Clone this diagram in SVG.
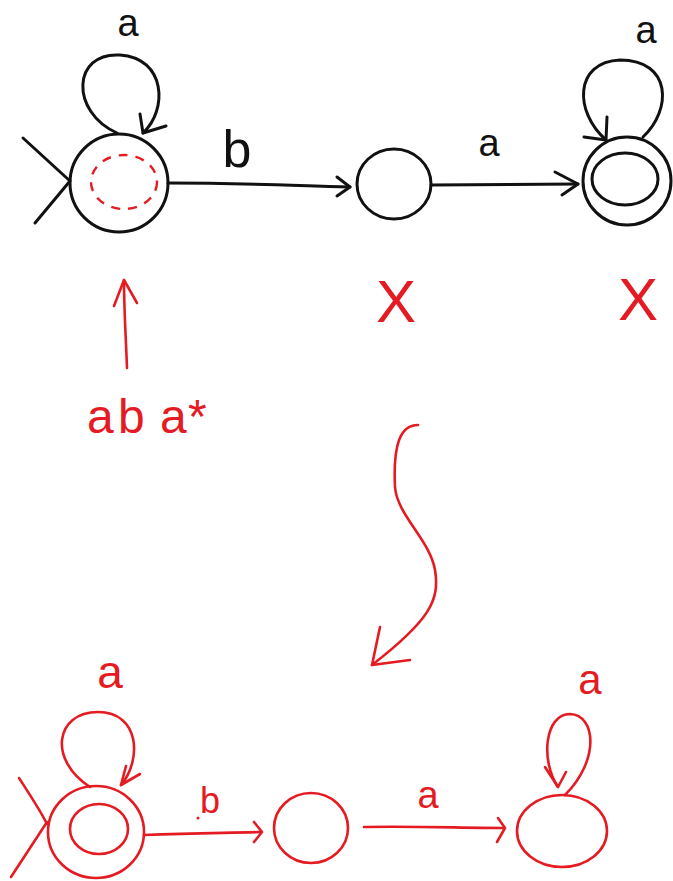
<svg xmlns="http://www.w3.org/2000/svg" width="673" height="881" viewBox="0 0 673 881">
<style>
.k{fill:none;stroke:#111;stroke-width:3;stroke-linecap:round;stroke-linejoin:round}
.r{fill:none;stroke:#e41b22;stroke-width:2.6;stroke-linecap:round;stroke-linejoin:round}
.rd{fill:none;stroke:#e41b22;stroke-width:2.4;stroke-dasharray:9 8}
.tk{font-family:"Liberation Sans",Arial,sans-serif;fill:#111}
.tr{font-family:"Liberation Sans",Arial,sans-serif;fill:#e41b22}
</style>
<rect width="673" height="881" fill="#fff"/>
<!-- top automaton (black) -->
<g id="top-q0">
<ellipse class="k" cx="119" cy="183" rx="49" ry="49"/>
<ellipse class="rd" cx="124" cy="182" rx="33" ry="27"/>
<path class="k" d="M23,138 L70,181 M35,223 L70,181"/>
</g>
<g id="top-q1">
<ellipse class="k" cx="394" cy="184" rx="37" ry="35"/>
</g>
<g id="top-q2">
<ellipse class="k" cx="627" cy="181" rx="44" ry="44"/>
<ellipse class="k" cx="625" cy="179" rx="33" ry="26"/>
</g>
<g id="connectors">
<path class="k" d="M117,133 C70,112 72,52 120,55 C166,58 168,110 143,133"/>
<path class="k" d="M140,114 L143,133 L166,126"/>
<path class="k" d="M168,183 C250,183 300,186 350,187"/>
<path class="k" d="M337,177 L350,187 L337,196"/>
<path class="k" d="M431,185 L578,184"/>
<path class="k" d="M555,172 L578,184 L562,195"/>
<path class="k" d="M643,137 C672,110 672,60 620,60 C574,62 574,112 606,140"/>
<path class="k" d="M607,117 L606,140 L584,137"/>
<path class="r" d="M127,368 C126,340 124,310 124,280"/>
<path class="r" d="M114,306 L124,280 L137,303"/>
<path class="r" d="M418,425 C400,425 393,445 395,487 C397,515 430,540 435,570 C440,600 430,620 372,665"/>
<path class="r" d="M380,627 L372,665 L410,660"/>
<path class="r" d="M90,787 C48,760 55,712 98,712 C140,712 142,760 121,785"/>
<path class="r" d="M140,774 L121,785 L126,766"/>
<path class="r" d="M144,835 C200,833 230,833 261,832"/>
<path class="r" d="M254,822 L262,832 L254,842"/>
<path class="r" d="M364,827 C420,826 460,828 504,828"/>
<path class="r" d="M498,818 L505,828 L497,842"/>
<path class="r" d="M565,795 C600,760 596,715 570,714 C545,714 540,760 558,787"/>
<path class="r" d="M545,767 L558,787 L566,772"/>
</g>
<!-- bottom automaton (red) -->
<g id="bot-q0">
<ellipse class="r" cx="96" cy="832" rx="48" ry="46"/>
<ellipse class="r" cx="99" cy="829" rx="29" ry="25"/>
<path class="r" d="M19,778 C30,795 40,810 47,824 M47,822 L11,877"/>
</g>
<g id="bot-q1">
<ellipse class="r" cx="311" cy="828" rx="37" ry="35"/>
</g>
<g id="bot-q2">
<ellipse class="r" cx="562" cy="831" rx="45" ry="36"/>
</g>
<g id="labels">
<text class="tk" x="128" y="36" font-size="38" text-anchor="middle">a</text>
<text class="tk" x="237" y="167" font-size="52" text-anchor="middle">b</text>
<text class="tk" x="489" y="156" font-size="38" text-anchor="middle">a</text>
<text class="tk" x="646" y="43" font-size="38" text-anchor="middle">a</text>
<text class="tr" x="396" y="322" font-size="60" text-anchor="middle">X</text>
<text class="tr" x="638" y="320" font-size="60" text-anchor="middle">X</text>
<text class="tr" y="433" font-size="48"><tspan x="87">a</tspan><tspan x="118">b</tspan><tspan x="160">a</tspan><tspan x="188">*</tspan></text>
<text class="tr" x="110" y="688" font-size="46" text-anchor="middle">a</text>
<text class="tr" x="210" y="813" font-size="36" text-anchor="middle">b</text>
<circle cx="198" cy="818" r="1.5" fill="#e41b22"/>
<text class="tr" x="428" y="808" font-size="38" text-anchor="middle">a</text>
<text class="tr" x="590" y="694" font-size="42" text-anchor="middle">a</text>
</g>
</svg>
